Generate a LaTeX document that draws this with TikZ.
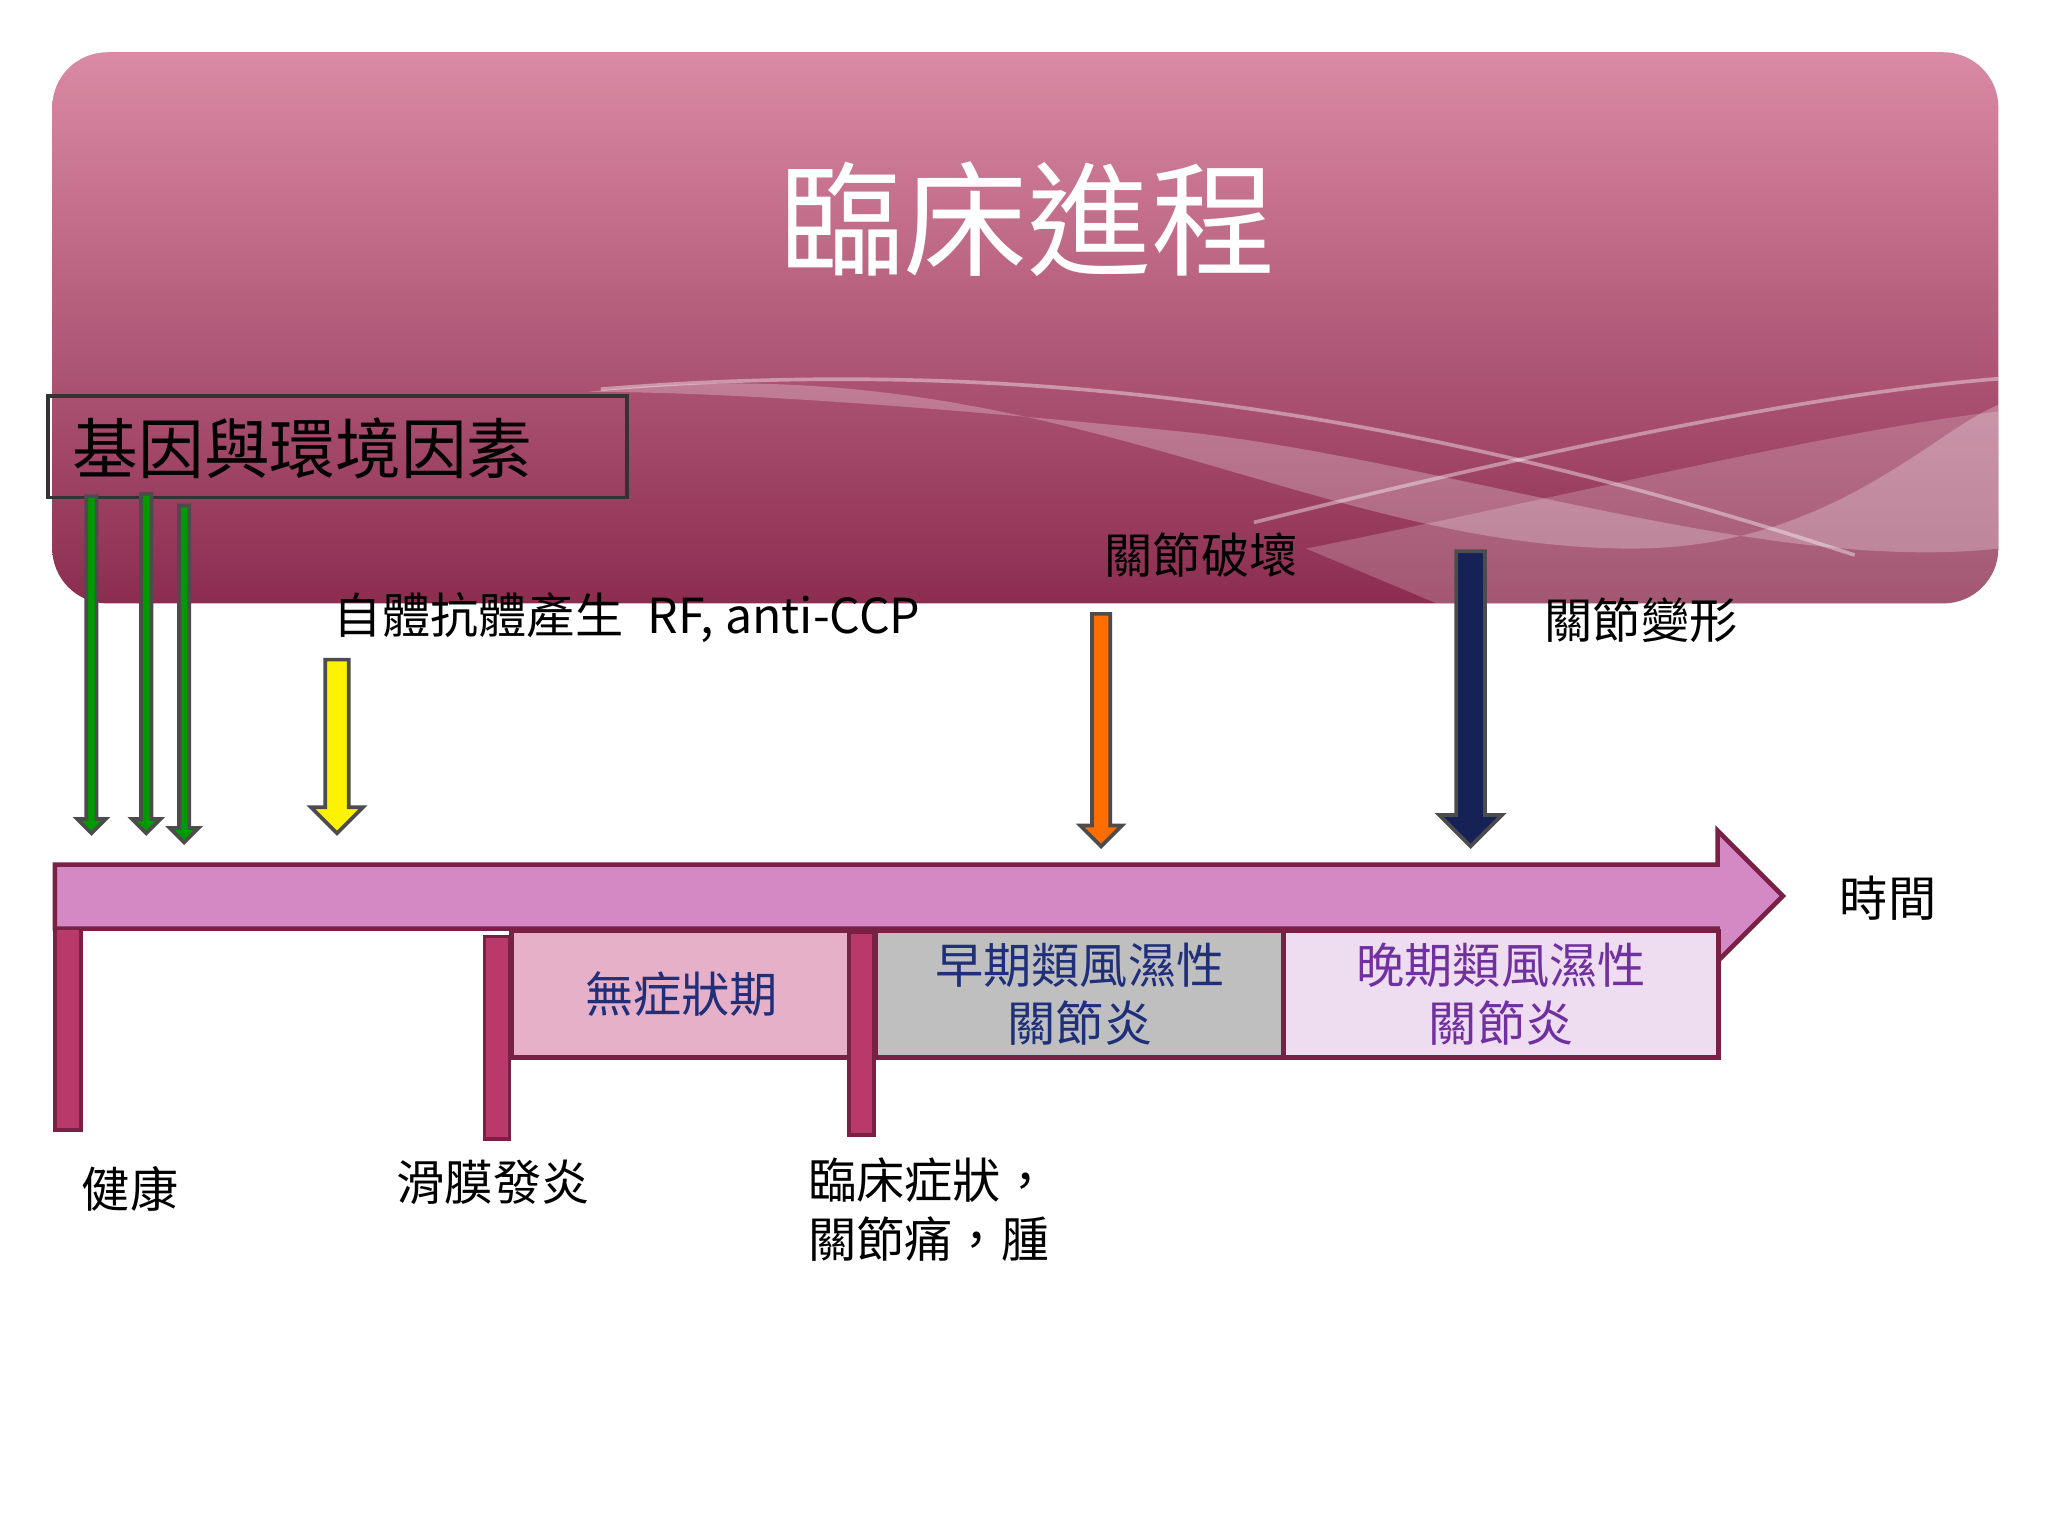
\documentclass[tikz,border=0pt]{standalone}
\usepackage{fontspec}
\setmainfont{Noto Sans CJK TC}
\usetikzlibrary{shadings}
\definecolor{bantop}{HTML}{DA8AA4}
\definecolor{banbot}{HTML}{8C2D50}
\definecolor{tl}{HTML}{D488C4}
\definecolor{tlb}{HTML}{7B2045}
\definecolor{bar}{HTML}{B9396A}
\definecolor{navyt}{HTML}{1F2F7A}
\definecolor{purt}{HTML}{7030A0}
\definecolor{sa}{HTML}{E5B0C8}
\definecolor{sb}{HTML}{BFBFBF}
\definecolor{sc}{HTML}{EEDDF0}
\newcommand\varrow[6]{% x, ytop, ybot, halfw, headhalf, fill
  \filldraw[fill=#6,draw=black!70,line width=0.8pt]
   ({#1-#4},{-#2}) -- ({#1+#4},{-#2}) -- ({#1+#4},{-#3+#5}) -- ({#1+#5},{-#3+#5})
   -- (#1,{-#3}) -- ({#1-#5},{-#3+#5}) -- ({#1-#4},{-#3+#5}) -- cycle;}
\begin{document}
\begin{tikzpicture}[x=0.01cm,y=0.01cm,
  lab/.style={anchor=west,font=\fontsize{10.5}{13}\selectfont,inner sep=0},
  stage/.style={draw=tlb,line width=1pt,align=center,inner sep=0,minimum height=0.97cm,font=\fontsize{10.5}{12.5}\selectfont},
  barst/.style={fill=bar,draw=tlb,line width=0.8pt}]
\useasboundingbox (0,0) rectangle (1568,-1176);
\fill[white] (0,0) rectangle (1568,-1176);
% banner
\shade[top color=bantop,bottom color=banbot,rounded corners=12] (40,-40) rectangle (1530,-462);
\begin{scope}
\clip[rounded corners=12] (40,-40) rectangle (1530,-462);
\fill[white,opacity=0.25] (450,-300) .. controls (800,-260) and (1000,-420) .. (1250,-420)
  .. controls (1400,-420) and (1480,-330) .. (1530,-310) -- (1530,-420) .. controls (1350,-440) and (1100,-350) .. (900,-330) .. controls (700,-310) and (550,-300) .. (450,-300);
\draw[white,opacity=0.4,line width=0.8pt] (460,-298) .. controls (800,-270) and (1100,-320) .. (1420,-425);
\draw[white,opacity=0.4,line width=0.8pt] (960,-400) .. controls (1200,-340) and (1400,-300) .. (1530,-290);
\fill[white,opacity=0.2] (1000,-420) .. controls (1200,-380) and (1400,-330) .. (1530,-315) -- (1530,-462) -- (1100,-462) -- cycle;
\end{scope}
\node[text=white,font=\fontsize{27}{30}\selectfont] (title) at (787,-168) {臨床進程};
% gene box
\draw[black!80,line width=0.8pt] (37,-303) rectangle (480,-381);
\node[lab,font=\fontsize{14.3}{16}\selectfont] (genet) at (55,-343) {基因與環境因素};
% arrows
\varrow{70}{380}{638}{4}{11}{green!60!black}
\varrow{112}{378}{638}{4}{11}{green!60!black}
\varrow{141}{387}{645}{4}{11}{green!60!black}
\varrow{258}{505}{638}{9}{20}{yellow}
\varrow{843}{470}{648}{7}{16}{orange!85!red}
\varrow{1126}{422}{648}{11}{24}{navyt!70!black}
\node[lab] (auto) at (255,-473) {自體抗體產生\hspace{0.5em}RF, anti-CCP};
\node[lab] (destroy) at (845,-425) {關節破壞};
\node[lab] (deform) at (1182,-475) {關節變形};
% timeline
\filldraw[fill=tl,draw=tlb,line width=1pt] (42,-662) -- (1315,-662) -- (1315,-636) -- (1365,-686) -- (1315,-736) -- (1315,-711) -- (42,-711) -- cycle;
\node[lab] (time) at (1408,-688) {時間};
% stages
\node[stage,fill=sa,minimum width=2.6cm,anchor=north west,text=navyt] (s1) at (390,-711) {無症狀期};
\node[stage,fill=sb,minimum width=3.12cm,anchor=north west,text=navyt] (s2) at (669,-711) {早期類風濕性\\關節炎};
\node[stage,fill=sc,minimum width=3.33cm,anchor=north west,text=purt] (s3) at (981,-711) {晚期類風濕性\\關節炎};
% bars
\filldraw[barst] (42,-711) rectangle (62,-865);
\filldraw[barst] (371,-717) rectangle (390,-872);
\filldraw[barst] (650,-714) rectangle (669,-869);
\node[lab] (health) at (62,-910) {健康};
\node[lab] (syn) at (303,-905) {滑膜發炎};
\node[lab,align=left] (clin) at (618,-926) {臨床症狀，\\關節痛，腫};
\end{tikzpicture}
\end{document}
